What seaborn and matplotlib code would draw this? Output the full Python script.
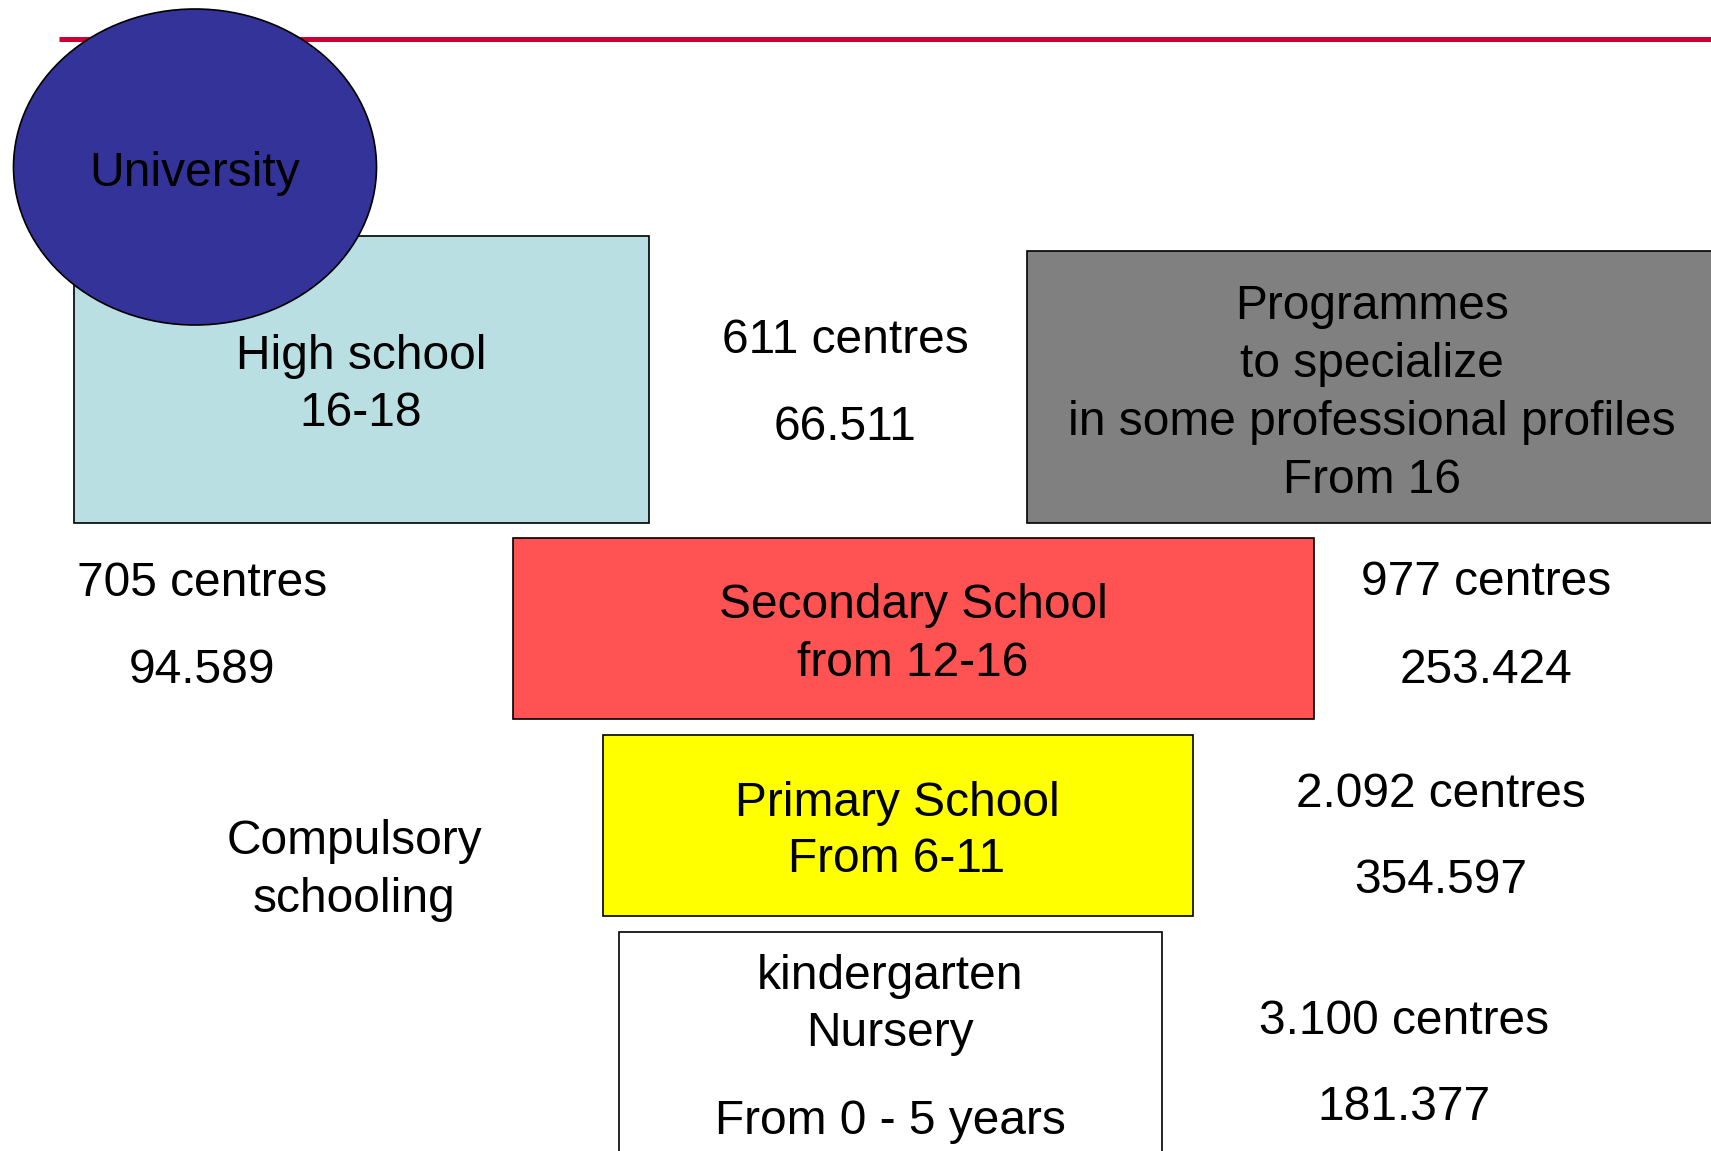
"""Sistema educativo: etapas, centros y alumnos. Se guarda en out.png."""

import matplotlib
matplotlib.use("Agg")

import matplotlib.pyplot as plt
from matplotlib.patches import Ellipse, Rectangle
import seaborn as sns

sns.set_theme(style="white")
plt.rcParams["font.family"] = ["Liberation Sans", "DejaVu Sans"]
plt.rcParams["text.color"] = "black"

# datos (tal cual aparecen en la lamina)
stage_lines = [
    ["High school", "16-18"],
    ["Programmes", "to specialize", "in some professional profiles", "From 16"],
    ["Secondary School", "from 12-16"],
    ["Primary School", "From 6-11"],
    ["kindergarten", "Nursery", "From 0 - 5 years"],
]
stage_colors = ["#B9DFE3", "#808080", "#FF5353", "#FFFF00", "#FFFFFF"]
centres = ["611 centres", "705 centres", "977 centres", "2.092 centres", "3.100 centres"]
students = ["66.511", "94.589", "253.424", "354.597", "181.377"]
top_label = "University"
side_label = ["Compulsory", "schooling"]

# maquetacion en pixeles (x0, y0, x1, y1) y posiciones de texto
W, H = 1711, 1151
DY = 4  # ajuste vertical del texto
BOXES = [(74, 236, 649, 523), (1027, 251, 1740, 523), (513, 538, 1314, 719),
         (603, 735, 1193, 916), (619, 932, 1162, 1170)]
BOX_TEXT = [(361, [352, 409]), (1372, [302, 360, 418, 476]), (913, [601, 659]),
            (897, [799, 855]), (890, [972, 1030, 1117])]
COUNT_POS = [(845, 336, 423), (202, 579, 666), (1486, 578, 666),
             (1441, 790, 876), (1404, 1017, 1103)]
FS = 34.5

fig = plt.figure(figsize=(W / 100, H / 100), dpi=100)
ax = fig.add_axes([0, 0, 1, 1])
ax.set_xlim(0, W)
ax.set_ylim(H, 0)
ax.axis("off")

ax.plot([59, W], [39, 39], color="#CC0033", lw=3.6, solid_capstyle="butt", zorder=1)

for (x0, y0, x1, y1), col in zip(BOXES, stage_colors):
    ax.add_patch(Rectangle((x0, y0), x1 - x0, y1 - y0, facecolor=col,
                           edgecolor="black", lw=1.2, zorder=2))

for lines, (cx, ys) in zip(stage_lines, BOX_TEXT):
    for txt, y in zip(lines, ys):
        ax.text(cx, y + DY, txt, ha="center", va="center", fontsize=FS, zorder=5)

# la universidad va encima de la caja de bachillerato
ax.add_patch(Ellipse((195, 167), 363, 316, facecolor="#333399",
                     edgecolor="black", lw=1.2, zorder=3))
ax.text(195, 169 + DY, top_label, ha="center", va="center", fontsize=FS, zorder=5)

for c, s, (cx, yc, ys) in zip(centres, students, COUNT_POS):
    ax.text(cx, yc + DY, c, ha="center", va="center", fontsize=FS)
    ax.text(cx, ys + DY, s, ha="center", va="center", fontsize=FS)

for txt, y in zip(side_label, [837, 895]):
    ax.text(354, y + DY, txt, ha="center", va="center", fontsize=FS)

fig.savefig("out.png", dpi=100)
plt.close(fig)
